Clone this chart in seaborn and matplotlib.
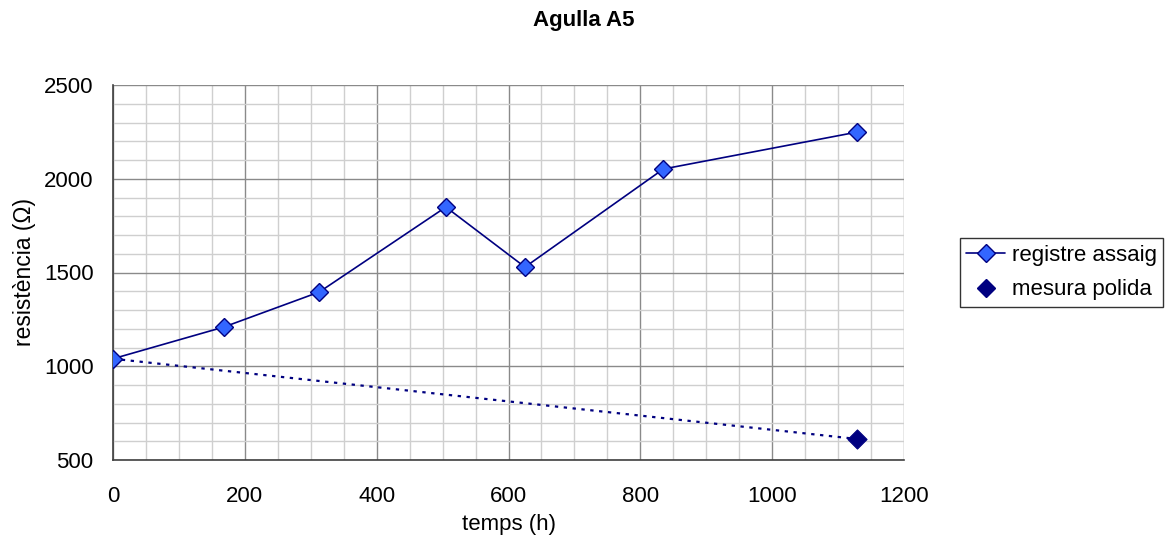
import matplotlib
matplotlib.use("Agg")
import matplotlib.pyplot as plt
import seaborn as sns
import pandas as pd
from matplotlib.ticker import MultipleLocator
from matplotlib.lines import Line2D

# Test log of needle A5
temps_registre = [0, 168, 313, 505, 625, 835, 1129]
resistencia_registre = [1040, 1209, 1396, 1849, 1529, 2052, 2249]

# Polished measurement and its trend from the starting value
temps_polida = [0, 1129]
resistencia_polida = [1040, 612]

sns.set_style("white")
plt.rcParams['font.family'] = ['Liberation Sans', 'DejaVu Sans']
plt.rcParams['text.color'] = 'black'
plt.rcParams['axes.labelcolor'] = 'black'
plt.rcParams['xtick.color'] = 'black'
plt.rcParams['ytick.color'] = 'black'

fig = plt.figure(figsize=(11.69, 5.45), dpi=100)
ax = fig.add_axes([113 / 1169, 85 / 545, 791 / 1169, 375 / 545])

df_reg = pd.DataFrame({"temps": temps_registre, "res": resistencia_registre})
df_pol = pd.DataFrame({"temps": temps_polida, "res": resistencia_polida})

# dotted trend of the polished measurement
sns.lineplot(data=df_pol, x="temps", y="res", ax=ax, color="#000080",
             linestyle=(0, (1.5, 2.5)), linewidth=1.6, zorder=3)
sns.lineplot(data=df_reg, x="temps", y="res", ax=ax, color="#000080",
             linewidth=1.2, marker="D", markersize=9,
             markerfacecolor="#3366FF", markeredgecolor="#000080",
             markeredgewidth=1.0, zorder=4)
sns.scatterplot(x=temps_polida[-1:], y=resistencia_polida[-1:], ax=ax,
                marker="D", s=95, color="#000080", edgecolor="#000080",
                zorder=5)

ax.set_xlim(0, 1200)
ax.set_ylim(500, 2500)
ax.xaxis.set_major_locator(MultipleLocator(200))
ax.xaxis.set_minor_locator(MultipleLocator(50))
ax.yaxis.set_major_locator(MultipleLocator(500))
ax.yaxis.set_minor_locator(MultipleLocator(100))
ax.grid(which="major", color="#8a8a8a", linewidth=1.0)
ax.grid(which="minor", color="#cfcfcf", linewidth=1.0)
ax.set_axisbelow(True)

for s in ["top", "right"]:
    ax.spines[s].set_visible(False)
for s in ["left", "bottom"]:
    ax.spines[s].set_color("#404040")
    ax.spines[s].set_linewidth(1.2)

ax.tick_params(axis="both", which="major", direction="out", length=5,
               width=1.0, color="#404040", labelsize=16)
ax.tick_params(axis="x", which="major", pad=14)
ax.tick_params(axis="y", which="major", pad=9)
ax.tick_params(axis="both", which="minor", length=0)

ax.set_xlabel("temps (h)", fontsize=16, labelpad=5)
ax.set_ylabel("resistència (Ω)", fontsize=16.5, labelpad=6)

fig.text(0.4995, 0.963, "Agulla A5", ha="center", va="center",
         fontsize=16, fontweight="bold")

handles = [
    Line2D([], [], color="#000080", linewidth=1.2, marker="D", markersize=9,
           markerfacecolor="#3366FF", markeredgecolor="#000080"),
    Line2D([], [], color="none", marker="D", markersize=9,
           markerfacecolor="#000080", markeredgecolor="#000080"),
]
leg = fig.legend(handles, ["registre assaig", "mesura polida"],
                 loc="center left", bbox_to_anchor=(960 / 1169, 0.5),
                 fontsize=16, frameon=True, fancybox=False,
                 edgecolor="black", handlelength=1.75, borderpad=0.28,
                 labelspacing=0.62, handletextpad=0.3, borderaxespad=0)
leg.get_frame().set_linewidth(1.0)

fig.savefig("out.png", dpi=100)
